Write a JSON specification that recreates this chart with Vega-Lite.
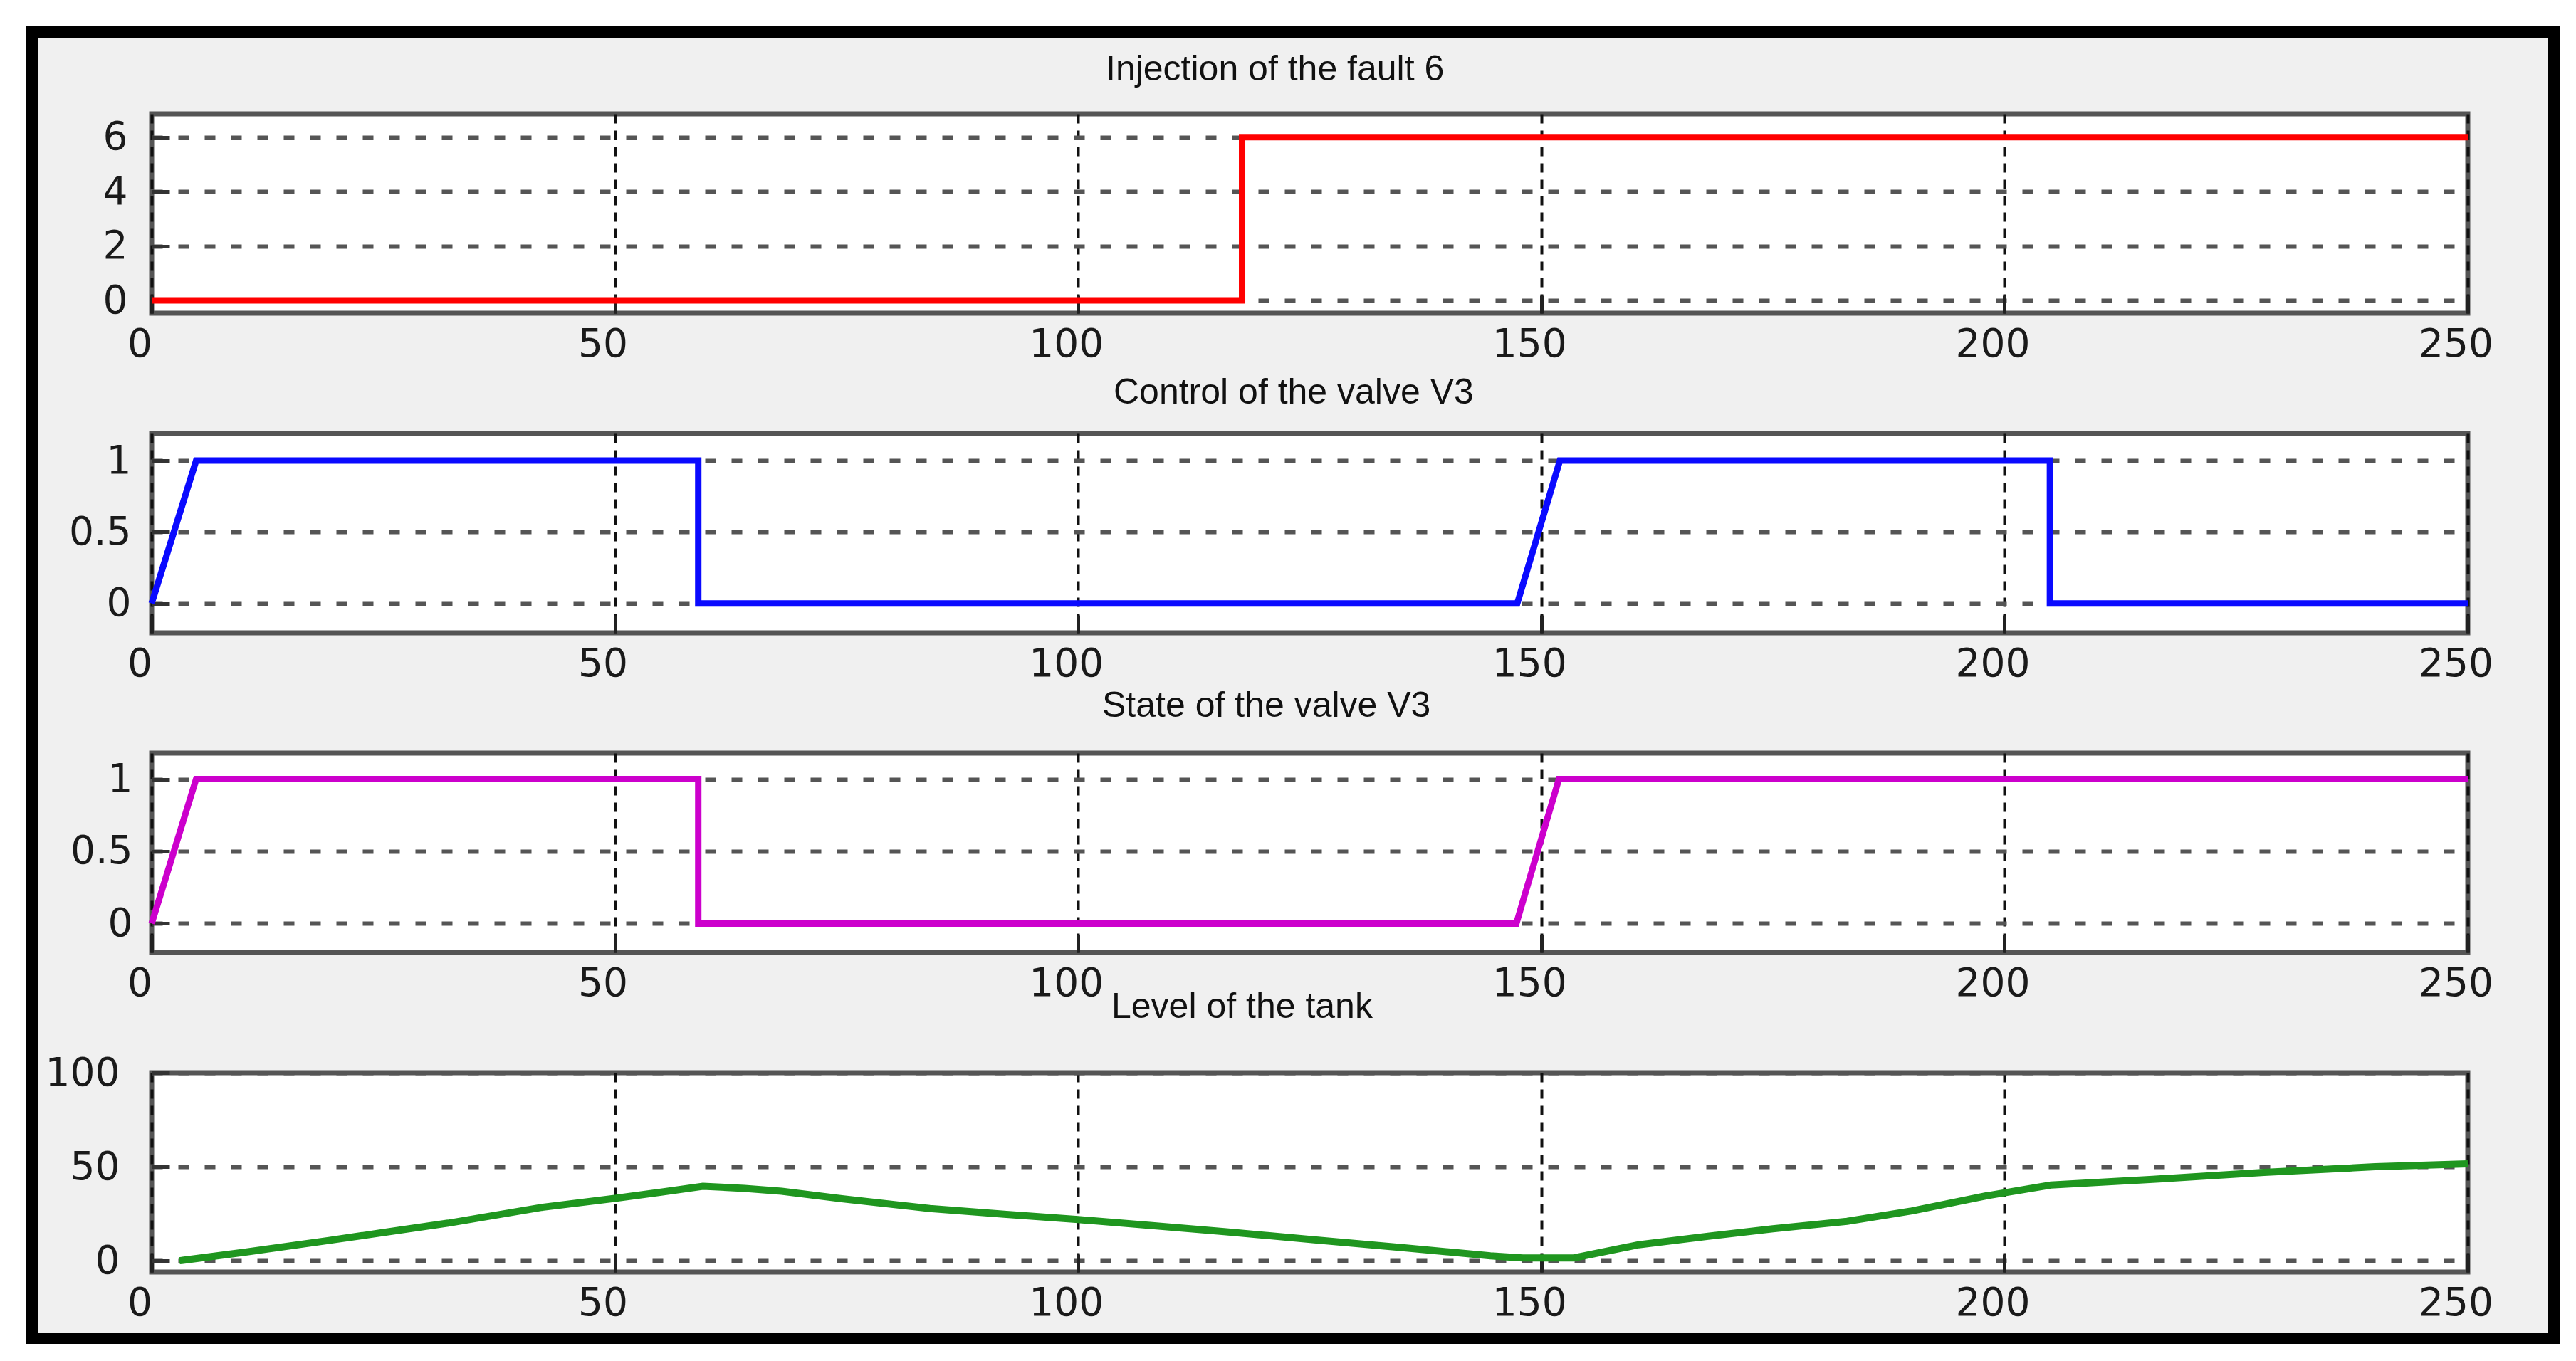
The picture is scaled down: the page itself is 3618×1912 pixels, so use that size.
{
  "$schema": "https://vega.github.io/schema/vega-lite/v6.json",
  "background": "#f0f0f0",
  "padding": 0,
  "autosize": {"type": "pad"},
  "columns": 7,
  "spacing": 0,
  "bounds": "flush",
  "align": "each",
  "center": false,
  "config": {
    "view": {"stroke": "#555555", "strokeWidth": 7, "fill": "#ffffff"},
    "title": {"anchor": "start", "frame": "group", "baseline": "alphabetic", "font": "Liberation Sans", "fontSize": 50, "fontWeight": "normal", "color": "#111111"},
    "axisX": {"grid": true, "gridColor": "#111111", "gridDash": [13, 10], "gridWidth": 4, "domain": false, "tickSize": -25, "tickWidth": 5, "tickColor": "#222222", "labelFont": "DejaVu Sans", "labelFontSize": 55, "labelFontWeight": "normal", "labelColor": "#1a1a1a", "labelPadding": 42, "labelBaseline": "top", "labelFlush": false, "labelOverlap": false, "labelOffset": -17},
    "axisY": {"grid": true, "gridColor": "#555555", "gridDash": [15, 22], "gridWidth": 6, "domain": false, "tickSize": -25, "tickWidth": 5, "tickColor": "#333333", "labelFont": "DejaVu Sans", "labelFontSize": 55, "labelFontWeight": "normal", "labelColor": "#1a1a1a", "labelPadding": 54, "labelFlush": false, "labelOverlap": false, "labelBaseline": "middle", "labelAlign": "right", "format": "~r"}
  },
  "concat": [
    {"width": 37, "height": 37, "data": {"values": []}, "mark": "rule", "encoding": {}, "view": {"fill": "#ffffff", "stroke": null}},
    {"width": 16, "height": 37, "data": {"values": []}, "mark": "rule", "encoding": {}, "view": {"fill": "#ffffff", "stroke": null}},
    {"width": 160, "height": 37, "data": {"values": []}, "mark": "rule", "encoding": {}, "view": {"fill": "#ffffff", "stroke": null}},
    {"width": 3253, "height": 37, "data": {"values": []}, "mark": "rule", "encoding": {}, "view": {"fill": "#ffffff", "stroke": null}},
    {"width": 113, "height": 37, "data": {"values": []}, "mark": "rule", "encoding": {}, "view": {"fill": "#ffffff", "stroke": null}},
    {"width": 16, "height": 37, "data": {"values": []}, "mark": "rule", "encoding": {}, "view": {"fill": "#ffffff", "stroke": null}},
    {"width": 23, "height": 37, "data": {"values": []}, "mark": "rule", "encoding": {}, "view": {"fill": "#ffffff", "stroke": null}},

    {"width": 37, "height": 123, "data": {"values": []}, "mark": "rule", "encoding": {}, "view": {"fill": "#ffffff", "stroke": null}},
    {"width": 16, "height": 123, "data": {"values": []}, "mark": "rule", "encoding": {}, "view": {"fill": "#000000", "stroke": null}},
    {"width": 160, "height": 16, "data": {"values": []}, "mark": "rule", "encoding": {}, "view": {"fill": "#000000", "stroke": null}},
    {"width": 3253, "height": 16, "data": {"values": []}, "mark": "rule", "encoding": {}, "view": {"fill": "#000000", "stroke": null}},
    {"width": 113, "height": 16, "data": {"values": []}, "mark": "rule", "encoding": {}, "view": {"fill": "#000000", "stroke": null}},
    {"width": 16, "height": 123, "data": {"values": []}, "mark": "rule", "encoding": {}, "view": {"fill": "#000000", "stroke": null}},
    {"width": 23, "height": 123, "data": {"values": []}, "mark": "rule", "encoding": {}, "view": {"fill": "#ffffff", "stroke": null}},

    {"width": 37, "height": 449, "data": {"values": []}, "mark": "rule", "encoding": {}, "view": {"fill": "#ffffff", "stroke": null}},
    {"width": 16, "height": 449, "data": {"values": []}, "mark": "rule", "encoding": {}, "view": {"fill": "#000000", "stroke": null}},
    {"width": 160, "height": 1, "data": {"values": []}, "mark": "rule", "encoding": {}, "view": {"fill": null, "stroke": null}},
    {
      "width": 3253, "height": 280,
      "title": {"text": "Injection of the fault  6", "dx": 1340, "offset": 37},
      "data": {"values": [{"t": 0, "v": 0}, {"t": 117.7, "v": 0}, {"t": 117.7, "v": 6}, {"t": 250, "v": 6}]},
      "mark": {"type": "line", "color": "#ff0000", "strokeWidth": 9},
      "encoding": {
        "x": {"field": "t", "type": "quantitative", "scale": {"domain": [0, 250], "nice": false, "zero": false}, "axis": {"values": [0, 50, 100, 150, 200, 250], "title": null}},
        "y": {"field": "v", "type": "quantitative", "scale": {"domain": [-0.47, 6.86], "nice": false, "zero": false}, "axis": {"values": [0, 2, 4, 6], "title": null, "labelPadding": 59}},
        "order": {"value": null}
      }
    },
    {"width": 113, "height": 1, "data": {"values": []}, "mark": "rule", "encoding": {}, "view": {"fill": null, "stroke": null}},
    {"width": 16, "height": 449, "data": {"values": []}, "mark": "rule", "encoding": {}, "view": {"fill": "#000000", "stroke": null}},
    {"width": 23, "height": 449, "data": {"values": []}, "mark": "rule", "encoding": {}, "view": {"fill": "#ffffff", "stroke": null}},

    {"width": 37, "height": 449, "data": {"values": []}, "mark": "rule", "encoding": {}, "view": {"fill": "#ffffff", "stroke": null}},
    {"width": 16, "height": 449, "data": {"values": []}, "mark": "rule", "encoding": {}, "view": {"fill": "#000000", "stroke": null}},
    {"width": 160, "height": 1, "data": {"values": []}, "mark": "rule", "encoding": {}, "view": {"fill": null, "stroke": null}},
    {
      "width": 3253, "height": 280,
      "title": {"text": "Control of the valve  V3", "dx": 1351, "offset": 32},
      "data": {"values": [{"t": 0, "v": 0}, {"t": 4.8, "v": 1}, {"t": 59, "v": 1}, {"t": 59, "v": 0}, {"t": 147.4, "v": 0}, {"t": 152, "v": 1}, {"t": 204.9, "v": 1}, {"t": 204.9, "v": 0}, {"t": 250, "v": 0}]},
      "mark": {"type": "line", "color": "#0a0aff", "strokeWidth": 9},
      "encoding": {
        "x": {"field": "t", "type": "quantitative", "scale": {"domain": [0, 250], "nice": false, "zero": false}, "axis": {"values": [0, 50, 100, 150, 200, 250], "title": null}},
        "y": {"field": "v", "type": "quantitative", "scale": {"domain": [-0.206, 1.19], "nice": false, "zero": false}, "axis": {"values": [0, 0.5, 1], "title": null, "labelPadding": 54}},
        "order": {"value": null}
      }
    },
    {"width": 113, "height": 1, "data": {"values": []}, "mark": "rule", "encoding": {}, "view": {"fill": null, "stroke": null}},
    {"width": 16, "height": 449, "data": {"values": []}, "mark": "rule", "encoding": {}, "view": {"fill": "#000000", "stroke": null}},
    {"width": 23, "height": 449, "data": {"values": []}, "mark": "rule", "encoding": {}, "view": {"fill": "#ffffff", "stroke": null}},

    {"width": 37, "height": 449, "data": {"values": []}, "mark": "rule", "encoding": {}, "view": {"fill": "#ffffff", "stroke": null}},
    {"width": 16, "height": 449, "data": {"values": []}, "mark": "rule", "encoding": {}, "view": {"fill": "#000000", "stroke": null}},
    {"width": 160, "height": 1, "data": {"values": []}, "mark": "rule", "encoding": {}, "view": {"fill": null, "stroke": null}},
    {
      "width": 3253, "height": 280,
      "title": {"text": "State of the valve  V3", "dx": 1335, "offset": 41},
      "data": {"values": [{"t": 0, "v": 0}, {"t": 4.8, "v": 1}, {"t": 59, "v": 1}, {"t": 59, "v": 0}, {"t": 147.3, "v": 0}, {"t": 151.9, "v": 1}, {"t": 250, "v": 1}]},
      "mark": {"type": "line", "color": "#cc00cc", "strokeWidth": 9},
      "encoding": {
        "x": {"field": "t", "type": "quantitative", "scale": {"domain": [0, 250], "nice": false, "zero": false}, "axis": {"values": [0, 50, 100, 150, 200, 250], "title": null}},
        "y": {"field": "v", "type": "quantitative", "scale": {"domain": [-0.2, 1.18], "nice": false, "zero": false}, "axis": {"values": [0, 0.5, 1], "title": null, "labelPadding": 52}},
        "order": {"value": null}
      }
    },
    {"width": 113, "height": 1, "data": {"values": []}, "mark": "rule", "encoding": {}, "view": {"fill": null, "stroke": null}},
    {"width": 16, "height": 449, "data": {"values": []}, "mark": "rule", "encoding": {}, "view": {"fill": "#000000", "stroke": null}},
    {"width": 23, "height": 449, "data": {"values": []}, "mark": "rule", "encoding": {}, "view": {"fill": "#ffffff", "stroke": null}},

    {"width": 37, "height": 365, "data": {"values": []}, "mark": "rule", "encoding": {}, "view": {"fill": "#ffffff", "stroke": null}},
    {"width": 16, "height": 365, "data": {"values": []}, "mark": "rule", "encoding": {}, "view": {"fill": "#000000", "stroke": null}},
    {"width": 160, "height": 1, "data": {"values": []}, "mark": "rule", "encoding": {}, "view": {"fill": null, "stroke": null}},
    {
      "width": 3253, "height": 280,
      "title": {"text": "Level of the tank", "dx": 1348, "offset": 40},
      "data": {"values": [
        {"t": 3, "v": 0}, {"t": 10, "v": 4.5}, {"t": 19, "v": 10.7}, {"t": 25, "v": 15}, {"t": 32, "v": 20},
        {"t": 42, "v": 28.3}, {"t": 50, "v": 33.2}, {"t": 55, "v": 36.5}, {"t": 59.5, "v": 39.6}, {"t": 64, "v": 38.5},
        {"t": 68, "v": 37}, {"t": 74.5, "v": 33}, {"t": 84, "v": 27.8}, {"t": 92, "v": 24.8}, {"t": 100, "v": 21.9},
        {"t": 108, "v": 18.7}, {"t": 116, "v": 15.4}, {"t": 125.5, "v": 11.1}, {"t": 135, "v": 7}, {"t": 144.5, "v": 2.6},
        {"t": 148, "v": 1.5}, {"t": 153.5, "v": 1.5}, {"t": 160.5, "v": 8.5}, {"t": 168, "v": 13}, {"t": 175, "v": 17},
        {"t": 183, "v": 21}, {"t": 190, "v": 26.5}, {"t": 198, "v": 34.5}, {"t": 205, "v": 40.3}, {"t": 216, "v": 43.3},
        {"t": 228, "v": 47}, {"t": 240, "v": 50}, {"t": 250, "v": 51.5}
      ]},
      "mark": {"type": "line", "color": "#1f961f", "strokeWidth": 10},
      "encoding": {
        "x": {"field": "t", "type": "quantitative", "scale": {"domain": [0, 250], "nice": false, "zero": false}, "axis": {"values": [0, 50, 100, 150, 200, 250], "title": null}},
        "y": {"field": "v", "type": "quantitative", "scale": {"domain": [-6, 100], "nice": false, "zero": false}, "axis": {"values": [0, 50, 100], "title": null, "labelPadding": 70}},
        "order": {"value": null}
      }
    },
    {"width": 113, "height": 1, "data": {"values": []}, "mark": "rule", "encoding": {}, "view": {"fill": null, "stroke": null}},
    {"width": 16, "height": 365, "data": {"values": []}, "mark": "rule", "encoding": {}, "view": {"fill": "#000000", "stroke": null}},
    {"width": 23, "height": 365, "data": {"values": []}, "mark": "rule", "encoding": {}, "view": {"fill": "#ffffff", "stroke": null}},

    {"width": 37, "height": 16, "data": {"values": []}, "mark": "rule", "encoding": {}, "view": {"fill": "#ffffff", "stroke": null}},
    {"width": 16, "height": 16, "data": {"values": []}, "mark": "rule", "encoding": {}, "view": {"fill": "#000000", "stroke": null}},
    {"width": 160, "height": 16, "data": {"values": []}, "mark": "rule", "encoding": {}, "view": {"fill": "#000000", "stroke": null}},
    {"width": 3253, "height": 16, "data": {"values": []}, "mark": "rule", "encoding": {}, "view": {"fill": "#000000", "stroke": null}},
    {"width": 113, "height": 16, "data": {"values": []}, "mark": "rule", "encoding": {}, "view": {"fill": "#000000", "stroke": null}},
    {"width": 16, "height": 16, "data": {"values": []}, "mark": "rule", "encoding": {}, "view": {"fill": "#000000", "stroke": null}},
    {"width": 23, "height": 16, "data": {"values": []}, "mark": "rule", "encoding": {}, "view": {"fill": "#ffffff", "stroke": null}},

    {"width": 37, "height": 24, "data": {"values": []}, "mark": "rule", "encoding": {}, "view": {"fill": "#ffffff", "stroke": null}},
    {"width": 16, "height": 24, "data": {"values": []}, "mark": "rule", "encoding": {}, "view": {"fill": "#ffffff", "stroke": null}},
    {"width": 160, "height": 24, "data": {"values": []}, "mark": "rule", "encoding": {}, "view": {"fill": "#ffffff", "stroke": null}},
    {"width": 3253, "height": 24, "data": {"values": []}, "mark": "rule", "encoding": {}, "view": {"fill": "#ffffff", "stroke": null}},
    {"width": 113, "height": 24, "data": {"values": []}, "mark": "rule", "encoding": {}, "view": {"fill": "#ffffff", "stroke": null}},
    {"width": 16, "height": 24, "data": {"values": []}, "mark": "rule", "encoding": {}, "view": {"fill": "#ffffff", "stroke": null}},
    {"width": 23, "height": 24, "data": {"values": []}, "mark": "rule", "encoding": {}, "view": {"fill": "#ffffff", "stroke": null}}
  ]
}
